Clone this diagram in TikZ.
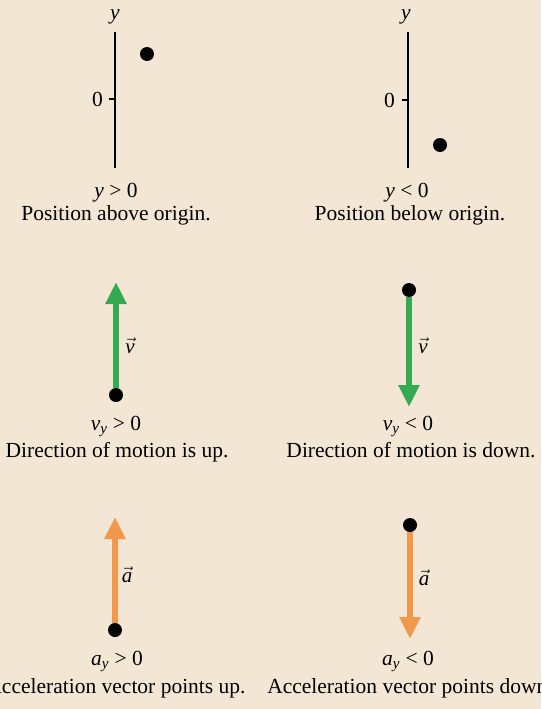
\documentclass[tikz,border=0pt]{standalone}
\usepackage{fontspec}
\setmainfont{Liberation Serif}
\usetikzlibrary{arrows.meta}
\definecolor{bgbeige}{RGB}{243,230,213}
\definecolor{vgreen}{RGB}{52,170,82}
\definecolor{aorange}{RGB}{242,152,74}
\tikzset{
  txt/.style={font=\fontsize{21.5}{26}\selectfont, inner sep=0pt, anchor=base},
  dotnode/.style={circle, fill=black, minimum size=14pt, inner sep=0pt},
  axisline/.style={line width=1.3pt, black},
  vecarrow/.style={line width=6pt, -{Triangle[width=20pt,length=22pt]}},
  veclabel/.style={font=\fontsize{21}{24}\selectfont, inner sep=0pt}
}
\begin{document}
\begin{tikzpicture}[x=1pt,y=-1pt]
\clip (0,0) rectangle (541,709);
\fill[bgbeige] (0,0) rectangle (541,709);
% ---- top left: position above origin
\coordinate (axLt) at (115,32);
\coordinate (axLb) at (115,168);
\coordinate (tkL) at (115,99);
\coordinate (tkLl) at (109,99);
\draw[axisline] (axLt) -- (axLb);
\draw[axisline] (tkLl) -- (tkL);
\node[txt] (yL) at (115,20) {\textit{y}};
\node[txt, anchor=east] (zL) at (103,99) {0};
\node[dotnode] (pL) at (147,54) {};
\node[txt] (cL1) at (116,197) {\textit{y} > 0};
\node[txt] (cL2) at (116,220) {Position above origin.};
% ---- top right: position below origin
\coordinate (axRt) at (408,32);
\coordinate (axRb) at (408,168);
\coordinate (tkR) at (408,100);
\coordinate (tkRl) at (402,100);
\draw[axisline] (axRt) -- (axRb);
\draw[axisline] (tkRl) -- (tkR);
\node[txt] (yR) at (406,20) {\textit{y}};
\node[txt, anchor=east] (zR) at (395,100) {0};
\node[dotnode] (pR) at (440,145) {};
\node[txt] (cR1) at (407,197) {\textit{y} < 0};
\node[txt] (cR2) at (410,220) {Position below origin.};
% ---- middle left: velocity up
\node[dotnode] (vdL) at (116,395) {};
\coordinate (vtL) at (116,282);
\draw[vecarrow, vgreen] (vdL) -- (vtL);
\node[veclabel] (vlL) at (130,346) {$\vec{\textit{v}}$};
\node[txt] (vcL1) at (116,430) {\textit{v}\textsubscript{\textit{y}} > 0};
\node[txt] (vcL2) at (117,457) {Direction of motion is up.};
% ---- middle right: velocity down
\node[dotnode] (vdR) at (409,290) {};
\coordinate (vtR) at (409,407);
\draw[vecarrow, vgreen] (vdR) -- (vtR);
\node[veclabel] (vlR) at (423,346) {$\vec{\textit{v}}$};
\node[txt] (vcR1) at (408,430) {\textit{v}\textsubscript{\textit{y}} < 0};
\node[txt] (vcR2) at (411,457) {Direction of motion is down.};
% ---- bottom left: acceleration up
\node[dotnode] (adL) at (115,630) {};
\coordinate (atL) at (115,517);
\draw[vecarrow, aorange] (adL) -- (atL);
\node[veclabel] (alL) at (127,575) {$\vec{\textit{a}}$};
\node[txt] (acL1) at (117,665) {\textit{a}\textsubscript{\textit{y}} > 0};
\node[txt] (acL2) at (116,693) {Acceleration vector points up.};
% ---- bottom right: acceleration down
\node[dotnode] (adR) at (410,525) {};
\coordinate (atR) at (410,639);
\draw[vecarrow, aorange] (adR) -- (atR);
\node[veclabel] (alR) at (424,578) {$\vec{\textit{a}}$};
\node[txt] (acR1) at (408,665) {\textit{a}\textsubscript{\textit{y}} < 0};
\node[txt] (acR2) at (410,693) {Acceleration vector points down.};
\end{tikzpicture}
\end{document}
